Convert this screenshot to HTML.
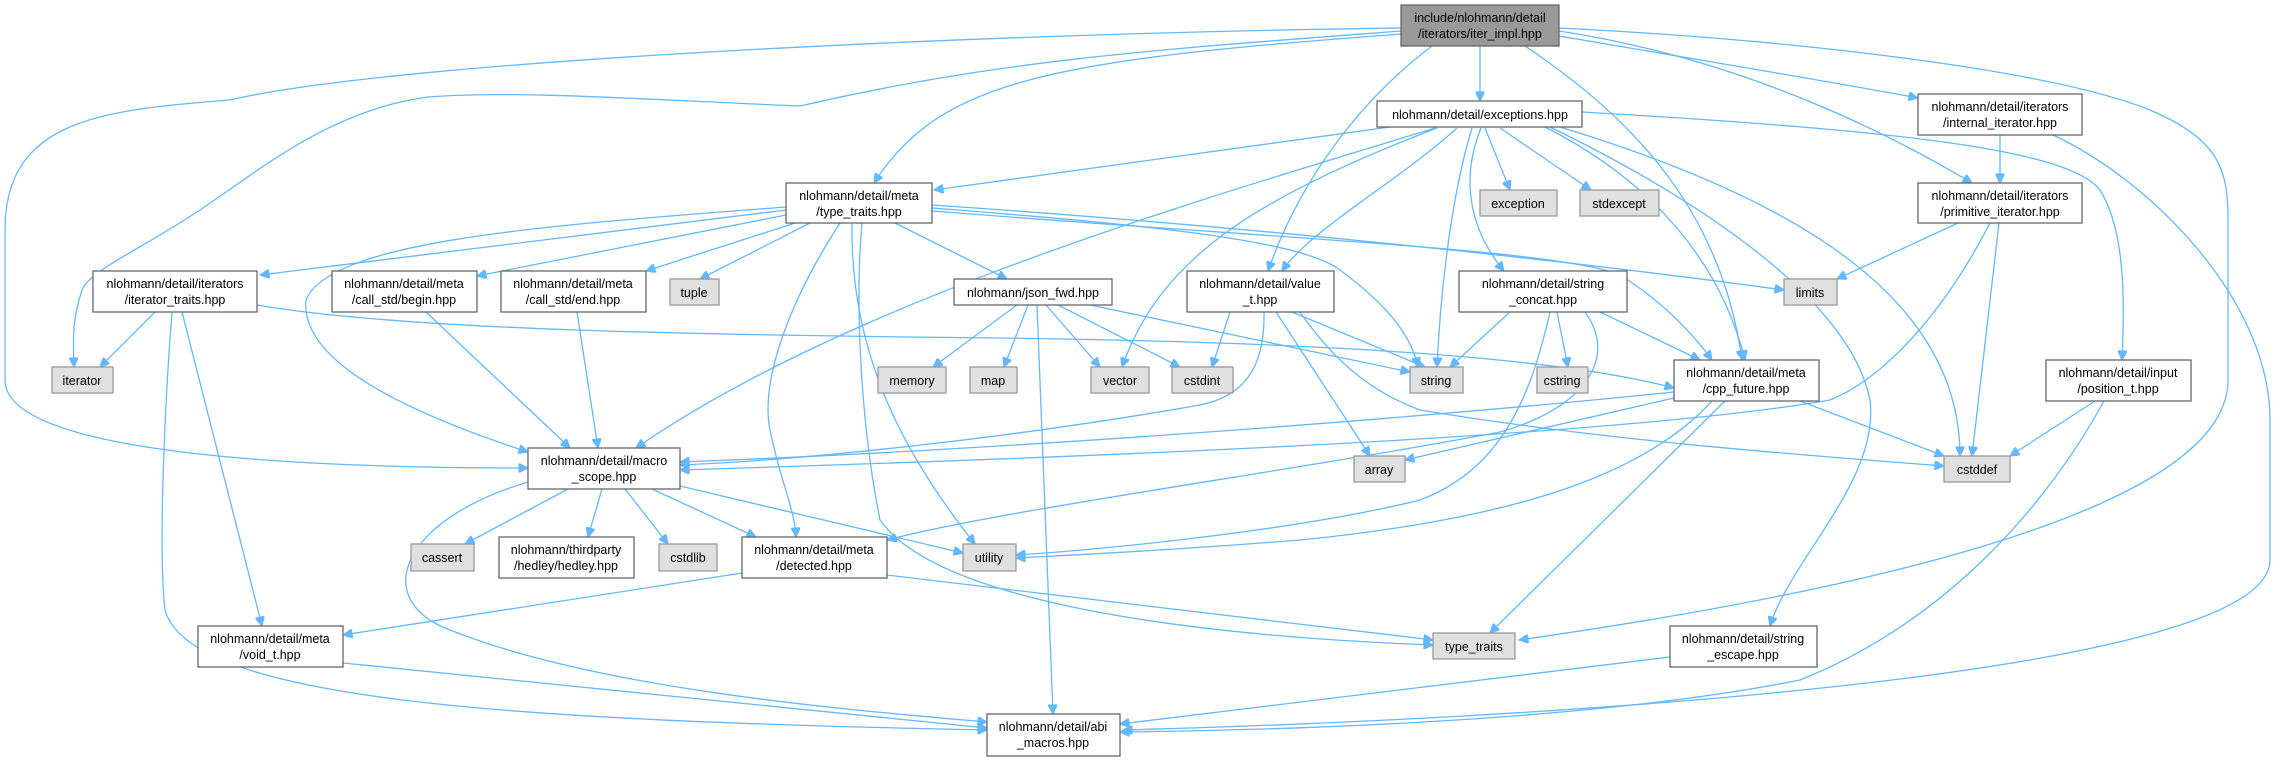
<!DOCTYPE html>
<html><head><meta charset="utf-8"><style>
html,body{margin:0;padding:0;background:#fff}
svg{display:block}
text{font-family:"Liberation Sans",Arial,sans-serif;font-size:12.5px;fill:#000;text-anchor:middle}
.n{fill:#fff;stroke:#666;stroke-width:1.3}
.s{fill:#e0e0e0;stroke:#999;stroke-width:1.3}
.r{fill:#999;stroke:#666;stroke-width:1.3}
path{fill:none;stroke:#63b8ff;stroke-width:1.3}
</style></head><body>
<svg width="2284" height="761" viewBox="0 0 2284 761" xmlns="http://www.w3.org/2000/svg">
<defs><marker id="a" viewBox="0 0 10 10" refX="10" refY="5" markerWidth="11" markerHeight="9" markerUnits="userSpaceOnUse" orient="auto"><path d="M0,0 L10,5 L0,10 z" style="fill:#63b8ff;stroke:#63b8ff"/></marker></defs>
<g marker-end="url(#a)">
<!-- iter_impl -->
<path d="M1480,46 L1480,101"/>
<path d="M1401,34 C1050,60 940,80 874,183"/>
<path d="M1401,31 C1150,50 1000,60 800,106 C650,100 520,90 428,97 C330,110 260,170 200,210 C140,250 90,270 82,290 C72,320 73,340 74,367"/>
<path d="M1401,28 C1000,33 400,60 230,100 C100,110 5,120 5,230 L5,380 C5,440 200,468 528,468"/>
<path d="M1432,46 C1360,100 1300,180 1268,271"/>
<path d="M1525,46 C1620,110 1720,200 1742,360"/>
<path d="M1559,36 C1700,60 1850,85 1918,98"/>
<path d="M1559,31 C1750,60 1900,140 1972,183"/>
<path d="M1559,28 C1800,40 2050,70 2150,110 C2220,140 2228,170 2228,220 L2228,380 C2228,520 1800,600 1519,640"/>
<!-- internal / primitive -->
<path d="M2000,135 L2000,183"/>
<path d="M2053,135 C2150,180 2270,300 2270,420 L2270,560 C2270,680 1500,720 1123,730"/>
<path d="M1958,223 L1837,279"/>
<path d="M1990,223 C1940,320 1880,380 1830,400 C1600,440 1000,460 680,470"/>
<path d="M1999,223 L1972,456"/>
<!-- exceptions -->
<path d="M1390,127 L934,190"/>
<path d="M1435,128 C1200,200 850,300 636,448"/>
<path d="M1437,128 C1250,200 1160,260 1122,367"/>
<path d="M1457,128 C1400,180 1310,230 1282,271"/>
<path d="M1472,128 C1450,200 1440,300 1437,367"/>
<path d="M1481,128 C1460,180 1470,230 1504,271"/>
<path d="M1485,128 L1510,190"/>
<path d="M1500,128 L1591,190"/>
<path d="M1545,127 C1650,180 1720,260 1745,360"/>
<path d="M1560,127 C1800,200 1960,300 1960,456"/>
<path d="M1550,127 C1700,200 1850,300 1870,400 C1880,480 1790,560 1770,626"/>
<path d="M1582,112 C1900,130 2070,150 2100,190 C2125,230 2125,300 2122,360"/>
<!-- type_traits meta -->
<path d="M786,210 L260,275"/>
<path d="M786,215 L477,276"/>
<path d="M795,223 L646,271"/>
<path d="M810,223 L700,279"/>
<path d="M786,207 C550,225 330,240 306,300 C300,360 400,410 528,452"/>
<path d="M840,223 C790,300 760,380 770,430 C780,480 795,510 796,537"/>
<path d="M862,223 C855,300 860,420 880,520 C950,620 1300,640 1433,645"/>
<path d="M852,223 C850,350 900,450 975,544"/>
<path d="M895,223 L1007,279"/>
<path d="M932,208 C1150,225 1300,240 1340,270 C1380,300 1410,330 1418,367"/>
<path d="M932,205 C1300,230 1600,265 1784,290"/>
<path d="M932,211 C1300,240 1560,250 1620,275 C1660,300 1690,330 1712,360"/>
<!-- iterator_traits -->
<path d="M155,312 L100,367"/>
<path d="M182,312 L262,626"/>
<path d="M172,312 C165,400 158,550 165,610 C190,700 500,720 987,730"/>
<path d="M257,305 C400,330 700,335 1000,338 C1300,342 1550,355 1674,388"/>
<path d="M426,312 L570,448"/>
<path d="M577,312 L598,448"/>
<!-- json_fwd -->
<path d="M1017,305 L933,367"/>
<path d="M1028,305 L1004,367"/>
<path d="M1046,305 L1100,367"/>
<path d="M1058,305 L1180,367"/>
<path d="M1090,305 L1410,372"/>
<path d="M1037,305 L1053,714"/>
<!-- value_t -->
<path d="M1230,312 L1212,367"/>
<path d="M1292,312 L1425,367"/>
<path d="M1264,312 C1265,360 1250,395 1200,405 C1000,440 800,460 680,465"/>
<path d="M1276,312 L1370,456"/>
<path d="M1300,312 C1340,370 1380,395 1420,410 C1600,440 1800,455 1944,466"/>
<!-- string_concat -->
<path d="M1510,312 L1450,367"/>
<path d="M1557,312 L1568,367"/>
<path d="M1600,312 L1700,360"/>
<path d="M1550,312 C1530,400 1500,470 1420,500 C1300,530 1100,550 1016,555"/>
<path d="M1585,312 C1620,360 1580,410 1500,432 C1300,470 1000,510 887,540"/>
<!-- cpp_future -->
<path d="M1674,392 C1400,420 1000,450 680,462"/>
<path d="M1674,398 L1405,460"/>
<path d="M1712,401 C1640,480 1500,520 1300,540 C1150,552 1050,556 1016,558"/>
<path d="M1725,401 L1490,633"/>
<path d="M1800,401 L1944,456"/>
<!-- macro_scope -->
<path d="M568,489 L465,544"/>
<path d="M602,489 L588,537"/>
<path d="M625,489 L668,544"/>
<path d="M652,489 L756,537"/>
<path d="M680,486 L963,553"/>
<path d="M528,482 C400,520 370,600 450,630 C600,690 850,710 987,722"/>
<!-- detected / void_t / escape / position -->
<path d="M742,573 L343,635"/>
<path d="M887,575 L1433,640"/>
<path d="M343,663 L987,728"/>
<path d="M1670,657 L1120,724"/>
<path d="M2095,401 L2010,456"/>
<path d="M2104,401 C2050,500 1950,620 1800,680 C1600,720 1300,730 1120,732"/>
</g>
<!-- nodes -->
<rect class="r" x="1401" y="5" width="158" height="41"/><text x="1480" y="22">include/nlohmann/detail</text><text x="1480" y="38">/iterators/iter_impl.hpp</text>
<rect class="n" x="1377" y="101" width="205" height="26"/><text x="1480" y="119">nlohmann/detail/exceptions.hpp</text>
<rect class="n" x="1918" y="94" width="164" height="41"/><text x="2000" y="111">nlohmann/detail/iterators</text><text x="2000" y="127">/internal_iterator.hpp</text>
<rect class="n" x="786" y="183" width="146" height="40"/><text x="859" y="200">nlohmann/detail/meta</text><text x="859" y="216">/type_traits.hpp</text>
<rect class="s" x="1480" y="190" width="77" height="26"/><text x="1518" y="208">exception</text>
<rect class="s" x="1580" y="190" width="79" height="26"/><text x="1619" y="208">stdexcept</text>
<rect class="n" x="1918" y="183" width="164" height="40"/><text x="2000" y="200">nlohmann/detail/iterators</text><text x="2000" y="216">/primitive_iterator.hpp</text>
<rect class="n" x="93" y="271" width="164" height="41"/><text x="175" y="288">nlohmann/detail/iterators</text><text x="175" y="304">/iterator_traits.hpp</text>
<rect class="n" x="332" y="271" width="145" height="41"/><text x="404" y="288">nlohmann/detail/meta</text><text x="404" y="304">/call_std/begin.hpp</text>
<rect class="n" x="501" y="271" width="145" height="41"/><text x="573" y="288">nlohmann/detail/meta</text><text x="573" y="304">/call_std/end.hpp</text>
<rect class="s" x="670" y="279" width="49" height="26"/><text x="694" y="297">tuple</text>
<rect class="n" x="954" y="279" width="158" height="26"/><text x="1033" y="297">nlohmann/json_fwd.hpp</text>
<rect class="n" x="1187" y="271" width="147" height="41"/><text x="1260" y="288">nlohmann/detail/value</text><text x="1260" y="304">_t.hpp</text>
<rect class="n" x="1459" y="271" width="168" height="41"/><text x="1543" y="288">nlohmann/detail/string</text><text x="1543" y="304">_concat.hpp</text>
<rect class="s" x="1784" y="279" width="53" height="26"/><text x="1810" y="297">limits</text>
<rect class="s" x="52" y="367" width="61" height="26"/><text x="82" y="385">iterator</text>
<rect class="s" x="878" y="367" width="68" height="26"/><text x="912" y="385">memory</text>
<rect class="s" x="970" y="367" width="47" height="26"/><text x="993" y="385">map</text>
<rect class="s" x="1091" y="367" width="58" height="26"/><text x="1120" y="385">vector</text>
<rect class="s" x="1172" y="367" width="61" height="26"/><text x="1202" y="385">cstdint</text>
<rect class="s" x="1410" y="367" width="53" height="26"/><text x="1436" y="385">string</text>
<rect class="s" x="1537" y="367" width="51" height="26"/><text x="1562" y="385">cstring</text>
<rect class="n" x="1674" y="360" width="145" height="41"/><text x="1746" y="377">nlohmann/detail/meta</text><text x="1746" y="393">/cpp_future.hpp</text>
<rect class="n" x="2046" y="360" width="145" height="41"/><text x="2118" y="377">nlohmann/detail/input</text><text x="2118" y="393">/position_t.hpp</text>
<rect class="n" x="528" y="448" width="152" height="41"/><text x="604" y="465">nlohmann/detail/macro</text><text x="604" y="481">_scope.hpp</text>
<rect class="s" x="1354" y="456" width="51" height="26"/><text x="1379" y="474">array</text>
<rect class="s" x="1944" y="456" width="66" height="26"/><text x="1977" y="474">cstddef</text>
<rect class="s" x="411" y="544" width="63" height="27"/><text x="442" y="562">cassert</text>
<rect class="n" x="499" y="537" width="135" height="41"/><text x="566" y="554">nlohmann/thirdparty</text><text x="566" y="570">/hedley/hedley.hpp</text>
<rect class="s" x="659" y="544" width="58" height="27"/><text x="688" y="562">cstdlib</text>
<rect class="n" x="742" y="537" width="145" height="41"/><text x="814" y="554">nlohmann/detail/meta</text><text x="814" y="570">/detected.hpp</text>
<rect class="s" x="963" y="544" width="53" height="27"/><text x="989" y="562">utility</text>
<rect class="n" x="198" y="626" width="145" height="41"/><text x="270" y="643">nlohmann/detail/meta</text><text x="270" y="659">/void_t.hpp</text>
<rect class="s" x="1433" y="633" width="82" height="26"/><text x="1474" y="651">type_traits</text>
<rect class="n" x="1670" y="626" width="147" height="41"/><text x="1743" y="643">nlohmann/detail/string</text><text x="1743" y="659">_escape.hpp</text>
<rect class="n" x="987" y="714" width="133" height="42"/><text x="1053" y="731">nlohmann/detail/abi</text><text x="1053" y="747">_macros.hpp</text>
</svg>
</body></html>
